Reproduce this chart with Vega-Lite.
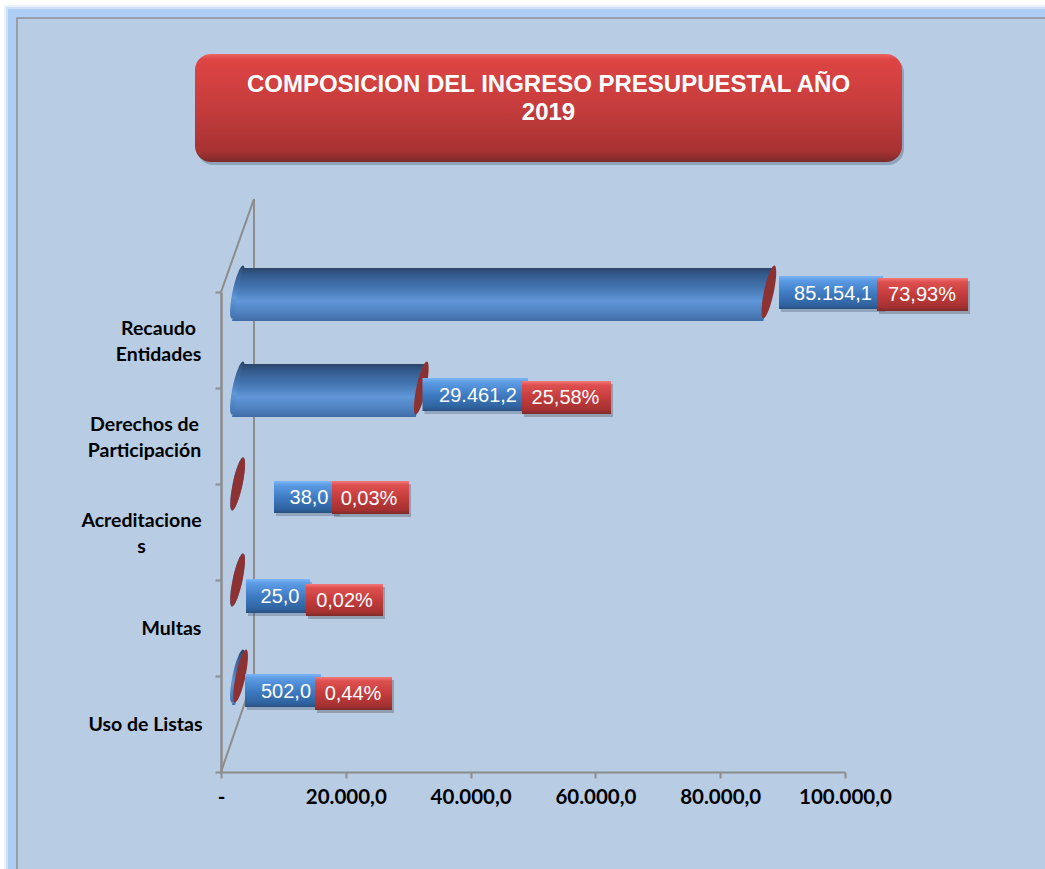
{
"$schema":"https://vega.github.io/schema/vega-lite/v6.json",
"width":624,"height":480,"autosize":{"type":"none"},
"padding":{"left":221,"top":292,"right":200,"bottom":98},
"background":"#ffffff",
"title":{"text":["COMPOSICION DEL INGRESO PRESUPUESTAL AÑO","2019"],"frame":"group","font":"Liberation Sans","fontWeight":"bold","fontSize":24,"color":"#ffffff","anchor":"middle","dx":15.5,"offset":-120,"lineHeight":28,"zindex":1},
"datasets":{
"ingresos":[
{"categoria":"Recaudo Entidades","valor":85154.1,"porcentaje":73.93},
{"categoria":"Derechos de Participación","valor":29461.2,"porcentaje":25.58},
{"categoria":"Acreditaciones","valor":38.0,"porcentaje":0.03},
{"categoria":"Multas","valor":25.0,"porcentaje":0.02},
{"categoria":"Uso de Listas","valor":502.0,"porcentaje":0.44}],
"cilindro":[
{"categoria":"Recaudo Entidades","alto":504,"desde":3526,"hasta":88680},
{"categoria":"Recaudo Entidades","alto":451,"desde":1763,"hasta":86917},
{"categoria":"Derechos de Participación","alto":408,"desde":3526,"hasta":32987},
{"categoria":"Derechos de Participación","alto":355,"desde":1763,"hasta":31224},
{"categoria":"Uso de Listas","alto":120,"desde":3526,"hasta":4028},
{"categoria":"Uso de Listas","alto":67,"desde":1763,"hasta":2265}],
"marco":[
{"nivel":"a","x0":-34776,"x1":135000,"y0":-120,"y1":767},
{"nivel":"b","x0":-34455,"x1":135000,"y0":-120,"y1":765},
{"nivel":"c","x0":-34135,"x1":135000,"y0":-120,"y1":763}],
"panel":[{"x0":-32692,"x1":135000,"y0":-120,"y1":754}],
"caja":[{"x0":-4167,"x1":109135,"y0":610,"y1":718}],
"pared":[
{"x0":5288,"x1":5288,"y0":96,"y1":573},
{"x0":0,"x1":5288,"y0":480,"y1":573},
{"x0":0,"x1":5288,"y0":0,"y1":96}],
"etiquetas":[
{"tipo":"valor","texto":"85.154,1","x0":89423,"x1":106090,"y0":463,"y1":496,"xt":98077,"yt":478},
{"tipo":"valor","texto":"29.461,2","x0":32292,"x1":49199,"y0":361,"y1":394,"xt":41186,"yt":376},
{"tipo":"valor","texto":"38,0","x0":8494,"x1":18750,"y0":259,"y1":291,"xt":14103,"yt":274},
{"tipo":"valor","texto":"25,0","x0":4006,"x1":14263,"y0":159,"y1":193,"xt":9455,"yt":175},
{"tipo":"valor","texto":"502,0","x0":3846,"x1":16026,"y0":65,"y1":98,"xt":10417,"yt":80},
{"tipo":"porcentaje","texto":"73,93%","x0":105128,"x1":119712,"y0":461,"y1":494,"xt":112340,"yt":477},
{"tipo":"porcentaje","texto":"25,58%","x0":48237,"x1":62500,"y0":358,"y1":391,"xt":55208,"yt":374},
{"tipo":"porcentaje","texto":"0,03%","x0":17788,"x1":30128,"y0":258,"y1":291,"xt":23718,"yt":273},
{"tipo":"porcentaje","texto":"0,02%","x0":13622,"x1":25962,"y0":156,"y1":188,"xt":19792,"yt":171},
{"tipo":"porcentaje","texto":"0,44%","x0":15064,"x1":27404,"y0":62,"y1":95,"xt":21154,"yt":78}]
},
"layer":[
{"data":{"name":"marco"},"mark":{"type":"rect","clip":false},
 "encoding":{
  "x":{"field":"x0","type":"quantitative","scale":{"domain":[0,100000],"nice":false,"zero":false},
   "axis":{"zindex":1,"values":[0,20000,40000,60000,80000,100000],"title":null,"grid":false,"domain":true,"domainColor":"#8C8C8C","domainWidth":2,"tickColor":"#8C8C8C","tickWidth":2,"tickSize":6,"labelPadding":9,"labelFont":"Lato","labelFontWeight":"bold","labelFontSize":20.5,"labelColor":"#000000","labelFlush":false,"labelOverlap":false,"labelExpr":"datum.value==0?'-':format(datum.value/1000,'.0f')+'.000,0'"}},"x2":{"field":"x1"},
  "y":{"field":"y0","type":"quantitative","scale":{"domain":[0,480],"nice":false},"axis":null},"y2":{"field":"y1"},
  "color":{"field":"nivel","type":"nominal","legend":null,"scale":{"domain":["a","b","c"],"range":["#EAF2FC","#CFE1F8","#AECDF4"]}}}},
{"data":{"name":"panel"},"mark":{"type":"rect","fill":"#B8CCE4","stroke":"#8E9092","strokeWidth":1.5},
 "encoding":{
  "x":{"field":"x0","type":"quantitative"},"x2":{"field":"x1"},
  "y":{"field":"y0","type":"quantitative","scale":{"domain":[0,480],"nice":false},"axis":null},"y2":{"field":"y1"}}},
{"data":{"name":"caja"},"mark":{"type":"rect","fill":"#5F6F86","opacity":0.45,"cornerRadius":16,"xOffset":2,"x2Offset":2,"yOffset":3,"y2Offset":3},
 "encoding":{
  "x":{"field":"x0","type":"quantitative"},"x2":{"field":"x1"},
  "y":{"field":"y0","type":"quantitative","scale":{"domain":[0,480],"nice":false},"axis":null},"y2":{"field":"y1"}}},
{"data":{"name":"caja"},"mark":{"type":"rect","cornerRadius":16,"fill":{"gradient":"linear","x1":0,"y1":0,"x2":0,"y2":1,"stops":[{"offset":0,"color":"#EC6464"},{"offset":0.05,"color":"#DE4444"},{"offset":0.5,"color":"#C53C3C"},{"offset":0.9,"color":"#A83232"},{"offset":1,"color":"#7C2A2A"}]}},
 "encoding":{
  "x":{"field":"x0","type":"quantitative"},"x2":{"field":"x1"},
  "y":{"field":"y0","type":"quantitative","scale":{"domain":[0,480],"nice":false},"axis":null},"y2":{"field":"y1"}}},
{"data":{"name":"pared"},"mark":{"type":"rule","color":"#8C8C8C","strokeWidth":2},
 "encoding":{
  "x":{"field":"x0","type":"quantitative"},"x2":{"field":"x1"},
  "y":{"field":"y0","type":"quantitative","scale":{"domain":[0,480],"nice":false},"axis":null},"y2":{"field":"y1"}}},
{"data":{"name":"ingresos"},"mark":{"type":"point","filled":true,"opacity":1,"size":2916,"xOffset":16.5,"yOffset":-48,"shape":"M-0.2,0.98A1,0.18,-78,1,0,0.2,-0.98A1,0.18,-78,1,0,-0.2,0.98Z","fill":{"gradient":"linear","x1":0,"y1":0,"x2":0,"y2":1,"stops":[{"offset":0,"color":"#2A4568"},{"offset":0.12,"color":"#335A8C"},{"offset":0.4,"color":"#4678B4"},{"offset":0.62,"color":"#5F97DA"},{"offset":0.85,"color":"#4E80BE"},{"offset":1,"color":"#3F6CA6"}]}},
 "encoding":{
  "x":{"datum":0,"type":"quantitative"},
  "y":{"field":"categoria","type":"nominal","sort":null,"scale":{"domain":["Recaudo Entidades","Derechos de Participación","Acreditaciones","Multas","Uso de Listas"],"paddingInner":0,"paddingOuter":0},
   "axis":{"zindex":1,"title":null,"grid":false,"domain":true,"domainColor":"#8C8C8C","domainWidth":2.5,"tickColor":"#8C8C8C","tickWidth":2,"tickSize":6,"tickBand":"extent","labelPadding":65,"labelAlign":"center","labelBaseline":"middle","labelFont":"Lato","labelFontWeight":"bold","labelFontSize":19.5,"labelColor":"#000000","labelLineHeight":26,"labelOverlap":false,"labelLimit":0,
    "labelExpr":"datum.value=='Recaudo Entidades'?['Recaudo','Entidades']:datum.value=='Derechos de Participación'?['Derechos de','Participación']:datum.value=='Acreditaciones'?['Acreditacione','s']:datum.value",
    "encoding":{"labels":{"dx":{"value":{"expr":"datum.value=='Recaudo Entidades'?8:datum.value=='Derechos de Participación'?-6:datum.value=='Acreditaciones'?-9:datum.value=='Multas'?21:-5"}},"dy":{"value":{"expr":"datum.value=='Recaudo Entidades'||datum.value=='Derechos de Participación'||datum.value=='Acreditaciones'?-12:0"}}}}}}}},
{"data":{"name":"cilindro"},"mark":{"type":"area","orient":"horizontal","fill":{"gradient":"linear","x1":0,"y1":0,"x2":0,"y2":1,"stops":[{"offset":0,"color":"#2A4568"},{"offset":0.12,"color":"#335A8C"},{"offset":0.4,"color":"#4678B4"},{"offset":0.62,"color":"#5F97DA"},{"offset":0.85,"color":"#4E80BE"},{"offset":1,"color":"#3F6CA6"}]}},
 "encoding":{
  "detail":{"field":"categoria"},
  "x":{"field":"desde","type":"quantitative"},"x2":{"field":"hasta"},
  "y":{"field":"alto","type":"quantitative","scale":{"domain":[0,480],"nice":false},"axis":null}}},
{"data":{"name":"ingresos"},"mark":{"type":"point","filled":true,"opacity":1,"size":2916,"xOffset":16.5,"yOffset":-48,"shape":"M-0.2,0.98A1,0.18,-78,1,0,0.2,-0.98A1,0.18,-78,1,0,-0.2,0.98Z","color":"#8C3232"},
 "encoding":{
  "x":{"field":"valor","type":"quantitative"},
  "y":{"field":"categoria","type":"nominal","sort":null,"axis":null,"scale":{"domain":["Recaudo Entidades","Derechos de Participación","Acreditaciones","Multas","Uso de Listas"],"paddingInner":0,"paddingOuter":0}}}},
{"data":{"name":"etiquetas"},"transform":[{"filter":"datum.tipo=='valor'"}],"mark":{"type":"rect","fill":"#4A5D78","opacity":0.35,"xOffset":2,"x2Offset":2,"yOffset":3,"y2Offset":3},
 "encoding":{
  "x":{"field":"x0","type":"quantitative"},"x2":{"field":"x1"},
  "y":{"field":"y0","type":"quantitative","scale":{"domain":[0,480],"nice":false},"axis":null},"y2":{"field":"y1"}}},
{"data":{"name":"etiquetas"},"transform":[{"filter":"datum.tipo=='valor'"}],"mark":{"type":"rect","fill":{"gradient":"linear","x1":0,"y1":0,"x2":0,"y2":1,"stops":[{"offset":0,"color":"#7DB6F5"},{"offset":0.12,"color":"#5D9DE6"},{"offset":0.5,"color":"#3F7CC4"},{"offset":0.88,"color":"#2F639F"},{"offset":1,"color":"#28507F"}]}},
 "encoding":{
  "x":{"field":"x0","type":"quantitative"},"x2":{"field":"x1"},
  "y":{"field":"y0","type":"quantitative","scale":{"domain":[0,480],"nice":false},"axis":null},"y2":{"field":"y1"}}},
{"data":{"name":"etiquetas"},"transform":[{"filter":"datum.tipo=='valor'"}],"mark":{"type":"text","font":"Liberation Sans","fontSize":20,"color":"#ffffff","align":"center","baseline":"middle"},
 "encoding":{
  "x":{"field":"xt","type":"quantitative"},
  "y":{"field":"yt","type":"quantitative","scale":{"domain":[0,480],"nice":false},"axis":null},
  "text":{"field":"texto"}}},
{"data":{"name":"etiquetas"},"transform":[{"filter":"datum.tipo=='porcentaje'"}],"mark":{"type":"rect","fill":"#4A4A5A","opacity":0.35,"xOffset":2,"x2Offset":2,"yOffset":3,"y2Offset":3},
 "encoding":{
  "x":{"field":"x0","type":"quantitative"},"x2":{"field":"x1"},
  "y":{"field":"y0","type":"quantitative","scale":{"domain":[0,480],"nice":false},"axis":null},"y2":{"field":"y1"}}},
{"data":{"name":"etiquetas"},"transform":[{"filter":"datum.tipo=='porcentaje'"}],"mark":{"type":"rect","fill":{"gradient":"linear","x1":0,"y1":0,"x2":0,"y2":1,"stops":[{"offset":0,"color":"#F47A7A"},{"offset":0.12,"color":"#DE5050"},{"offset":0.5,"color":"#C43C3C"},{"offset":0.88,"color":"#A53131"},{"offset":1,"color":"#7E2A2A"}]}},
 "encoding":{
  "x":{"field":"x0","type":"quantitative"},"x2":{"field":"x1"},
  "y":{"field":"y0","type":"quantitative","scale":{"domain":[0,480],"nice":false},"axis":null},"y2":{"field":"y1"}}},
{"data":{"name":"etiquetas"},"transform":[{"filter":"datum.tipo=='porcentaje'"}],"mark":{"type":"text","font":"Liberation Sans","fontSize":20,"color":"#ffffff","align":"center","baseline":"middle"},
 "encoding":{
  "x":{"field":"xt","type":"quantitative"},
  "y":{"field":"yt","type":"quantitative","scale":{"domain":[0,480],"nice":false},"axis":null},
  "text":{"field":"texto"}}}
],
"resolve":{"scale":{"y":"independent","color":"independent"}}
}
